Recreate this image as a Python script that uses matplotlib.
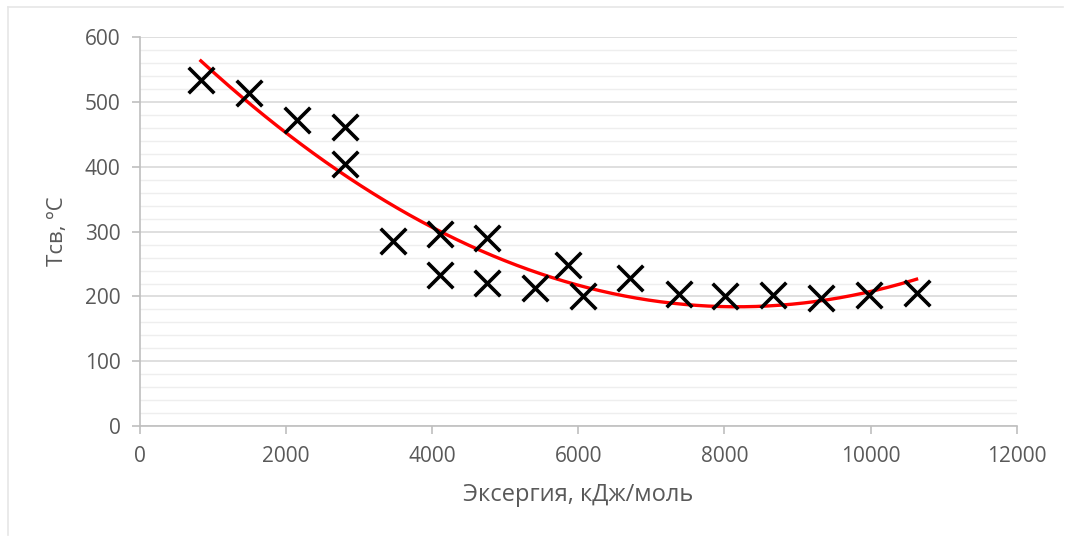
import matplotlib
matplotlib.use('Agg')
import matplotlib.pyplot as plt
from matplotlib.ticker import MultipleLocator
from matplotlib.lines import Line2D
import numpy as np

# data
exergy = [834, 1491, 2148, 2804, 2804, 3461, 4104, 4104, 4747, 4747,
          5404, 5855, 6060, 6703, 7373, 8003, 8659, 9316, 9973, 10629]
t_sv = [534, 514, 472, 461, 404, 285, 296, 233, 290, 221,
        213, 248, 201, 228, 204, 201, 202, 198, 202, 205]

x_ticks = [0, 2000, 4000, 6000, 8000, 10000, 12000]
y_ticks = [0, 100, 200, 300, 400, 500, 600]

TXT = '#595959'
plt.rcParams['font.family'] = ['Open Sans', 'DejaVu Sans']

fig = plt.figure(figsize=(10.68, 5.4), dpi=100)
ax = fig.add_axes([0.131, 0.211, 0.821, 0.72])

# faint chart frame (left / top edges)
fig.add_artist(Line2D([0.0075, 0.0075], [0.01, 0.987], transform=fig.transFigure, color='#e6e6e6', lw=1.2))
fig.add_artist(Line2D([0.0075, 0.995], [0.987, 0.987], transform=fig.transFigure, color='#e6e6e6', lw=1.2))

# polynomial trendline (order 2), like Excel
coef = np.polyfit(exergy, t_sv, 2)
xs = np.linspace(min(exergy), max(exergy), 300)
ax.plot(xs, np.polyval(coef, xs), color='#ff0000', lw=2.4, zorder=3)

ax.scatter(exergy, t_sv, marker='x', s=340, color='black', linewidths=2.6, zorder=4)

ax.set_xlim(0, 12000)
ax.set_ylim(0, 600)
ax.set_xticks(x_ticks)
ax.set_yticks(y_ticks)
ax.yaxis.set_minor_locator(MultipleLocator(20))
ax.grid(axis='y', which='major', color='#d9d9d9', lw=1.2, zorder=0)
ax.grid(axis='y', which='minor', color='#eeeeee', lw=1.0, zorder=0)

for s in ('top', 'right'):
    ax.spines[s].set_visible(False)
for s in ('left', 'bottom'):
    ax.spines[s].set_color('#bfbfbf')
    ax.spines[s].set_linewidth(1.2)

ax.tick_params(axis='both', which='major', colors='#bfbfbf', length=6, width=1.2,
               labelcolor=TXT, labelsize=15)
ax.tick_params(axis='y', which='minor', length=0)
ax.tick_params(axis='x', pad=8)
ax.tick_params(axis='y', pad=8)

ax.set_xlabel('Эксергия, кДж/моль', fontsize=17, color=TXT, labelpad=12)
ax.set_ylabel('Тсв, ºС', fontsize=16, color=TXT, labelpad=12)

fig.savefig('out.png', dpi=100, facecolor='white')
